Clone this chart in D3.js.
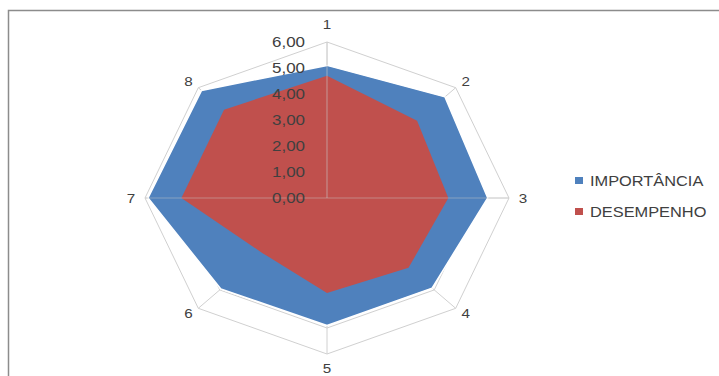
<!DOCTYPE html>
<html>
<head>
<meta charset="utf-8">
<script src="https://cdn.jsdelivr.net/npm/d3@7"></script>
<style>
  body { margin: 0; background: #ffffff; }
  text { font-family: "Liberation Sans", Arial, sans-serif; }
</style>
</head>
<body>
<svg id="chart" width="719" height="376"></svg>
<script>
// data
var categories = ["1", "2", "3", "4", "5", "6", "7", "8"];
var importancia = [5.1, 5.5, 5.3, 4.9, 4.9, 4.95, 5.9, 5.85];
var desempenho = [4.7, 4.2, 4.0, 3.8, 3.65, 3.0, 4.8, 4.8];
var ticks = [0, 1, 2, 3, 4, 5, 6];
var seriesNames = ["IMPORTÂNCIA", "DESEMPENHO"];
var seriesColors = ["#4f81bd", "#c0504d"];

var cx = 327, cy = 198;
var stretch = 1.17; // the whole picture is a little wider than tall
var svg = d3.select("#chart");

var rx = d3.scaleLinear().domain([0, 6]).range([0, 182]);
var ry = d3.scaleLinear().domain([0, 6]).range([0, 156]);

var angle = function(i) { return (Math.PI * 2 / categories.length) * i; };
var px = function(v, i) { return cx + rx(v) * Math.sin(angle(i)); };
var py = function(v, i) { return cy - ry(v) * Math.cos(angle(i)); };

// text squeezed like the source
var placeText = function(sel, x, y) {
    sel.attr("transform", function(d, i) {
        return "translate(" + x(d, i) + "," + y(d, i) + ") scale(" + stretch + ",1)";
    });
};

// frame
svg.append("path")
    .attr("d", "M8.5,376 L8.5,10.5 L719,10.5")
    .attr("fill", "none")
    .attr("stroke", "#8c8c8c")
    .attr("stroke-width", 1.5);

// gridlines
svg.append("g").selectAll("polygon")
    .data(ticks.slice(1))
    .enter()
    .append("polygon")
    .attr("points", function(t) {
        return categories.map(function(c, i) { return px(t, i) + "," + py(t, i); }).join(" ");
    })
    .attr("fill", "none")
    .attr("stroke", "#d0d0d0")
    .attr("stroke-width", 1);

// spokes
svg.append("g").selectAll("line")
    .data(categories)
    .enter()
    .append("line")
    .attr("x1", cx)
    .attr("y1", cy)
    .attr("x2", function(d, i) { return px(6, i); })
    .attr("y2", function(d, i) { return py(6, i); })
    .attr("stroke", "#d0d0d0")
    .attr("stroke-width", 1);

// areas
var series = [importancia, desempenho];
svg.append("g").selectAll("polygon")
    .data(series)
    .enter()
    .append("polygon")
    .attr("points", function(d) {
        return d.map(function(v, i) { return px(v, i) + "," + py(v, i); }).join(" ");
    })
    .attr("fill", function(d, i) { return seriesColors[i]; })
    .attr("stroke", function(d, i) { return i == 0 ? "#ffffff" : "none"; })
    .attr("stroke-width", 1.5);

// value axis and cross line show faintly through the fills
svg.append("line")
    .attr("x1", cx).attr("y1", cy)
    .attr("x2", px(6, 0)).attr("y2", py(6, 0))
    .attr("stroke", "#c8c8c8").attr("stroke-opacity", 0.6);
svg.append("line")
    .attr("x1", px(6, 6)).attr("y1", cy)
    .attr("x2", px(6, 2)).attr("y2", cy)
    .attr("stroke", "#c8c8c8").attr("stroke-opacity", 0.45);

// value ticks along axis 1
var tickLabels = svg.append("g").selectAll("text")
    .data(ticks)
    .enter()
    .append("text")
    .attr("text-anchor", "end")
    .attr("dy", "0.35em")
    .attr("font-size", 14.5)
    .attr("fill", "#404040")
    .text(function(t) { return d3.format(".2f")(t).replace(".", ","); });
placeText(tickLabels, function() { return cx - 22; }, function(t) { return cy - ry(t); });

// category labels
var catLabels = svg.append("g").selectAll("text")
    .data(categories)
    .enter()
    .append("text")
    .attr("text-anchor", "middle")
    .attr("dy", "0.35em")
    .attr("font-size", 13)
    .attr("fill", "#404040")
    .text(function(d) { return d; });
placeText(catLabels,
    function(d, i) { return px(6, i) + 14 * Math.sin(angle(i)); },
    function(d, i) {
        var c = Math.cos(angle(i));
        return py(6, i) - (c > 0 ? 18 : 14) * Math.pow(c, 3);
    });

// legend
var legend = svg.append("g").selectAll("g")
    .data(seriesNames)
    .enter()
    .append("g")
    .attr("transform", function(d, i) { return "translate(575," + (181 + i * 31) + ")"; });
legend.append("rect")
    .attr("x", 0)
    .attr("y", -4)
    .attr("width", 8)
    .attr("height", 7)
    .attr("fill", function(d, i) { return seriesColors[i]; });
legend.append("text")
    .attr("transform", "translate(15,0) scale(" + stretch + ",1)")
    .attr("dy", "0.35em")
    .attr("font-size", 14)
    .attr("fill", "#404040")
    .text(function(d) { return d; });
</script>
</body>
</html>
